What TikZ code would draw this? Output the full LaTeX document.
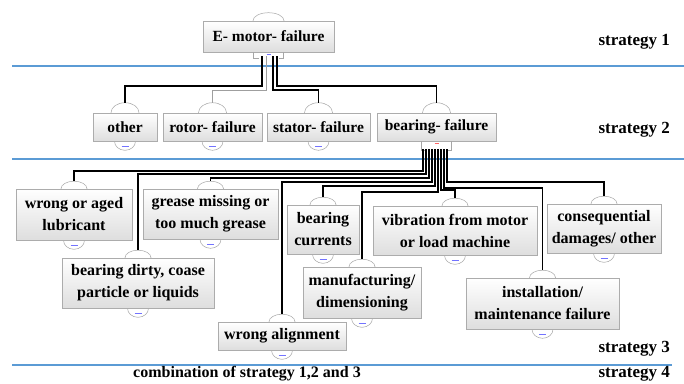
\documentclass[tikz,border=0pt]{standalone}
\usepackage{fontspec}
\setmainfont{Liberation Serif}
\usetikzlibrary{shadows,calc}
\pgfdeclarelayer{bg}
\pgfsetlayers{bg,main}
\definecolor{blueline}{RGB}{91,155,213}
\begin{document}
\begin{tikzpicture}[x=1pt,y=-1pt,
 ev/.style={draw=gray!65, line width=0.6pt, top color=white, bottom color=black!13,
   align=center, inner sep=1pt, font=\bfseries\fontsize{16}{22}\selectfont,
   drop shadow={shadow xshift=1.3pt, shadow yshift=-1.3pt, fill=black!45, opacity=0.6}},
 ev2/.style={ev, font=\bfseries\fontsize{15.5}{21}\selectfont},
 wire/.style={line width=1.3pt, black},
 thinwire/.style={line width=0.9pt, gray!75},
 sepline/.style={draw=blueline, line width=1.6pt},
 strat/.style={font=\bfseries\fontsize{17}{20}\selectfont, anchor=east, inner sep=0pt},
 gatebg/.style={fill=white, draw=gray!70, line width=0.5pt},
 bracket/.style={draw=gray!70, line width=0.7pt},
 idmark/.style={draw=blue!55, line width=0.6pt}
]
\useasboundingbox (0,0) rectangle (684,383);

% separator lines
\draw[sepline] (12,66) -- (684,66);
\draw[sepline] (12,159) -- (684,159);
\draw[sepline] (12,365) -- (672,365);

% strategy labels
\node[strat] (s1) at (670,42) {strategy 1};
\node[strat] (s2) at (670,130) {strategy 2};
\node[strat] (s3) at (670,349) {strategy 3};
\node[strat] (s4) at (670,374) {strategy 4};
\node[font=\bfseries\fontsize{16}{20}\selectfont, inner sep=0pt] (comb) at (247,374) {combination of strategy 1,2 and 3};

% level 1
\node[ev2, minimum width=131pt, minimum height=31pt] (top) at (268.5,36.5) {E- motor- failure};

% level 2
\node[ev2, minimum width=64pt, minimum height=28pt] (oth) at (125,127) {other};
\node[ev2, minimum width=99pt, minimum height=28pt] (rot) at (212.5,127) {rotor- failure};
\node[ev2, minimum width=103pt, minimum height=28pt] (sta) at (318.5,127) {stator- failure};
\node[ev2, minimum width=119pt, minimum height=28pt] (bea) at (436.5,127) {bearing- failure};

% level 3
\node[ev, minimum width=116pt, minimum height=51pt] (wa) at (74,214.5) {wrong or aged\\lubricant};
\node[ev, minimum width=135pt, minimum height=50pt] (gm) at (210.5,214) {grease missing or\\too much grease};
\node[ev, minimum width=72pt, minimum height=49pt] (bc) at (323,229.5) {bearing\\currents};
\node[ev, minimum width=164pt, minimum height=49pt] (vib) at (455,230.5) {vibration from motor\\or load machine};
\node[ev, minimum width=114pt, minimum height=49pt] (cd) at (604,228.5) {consequential\\damages/ other};
\node[ev, minimum width=152pt, minimum height=50pt] (bd) at (138,283) {bearing dirty, coase\\particle or liquids};
\node[ev, minimum width=118pt, minimum height=51pt] (mf) at (362,292.5) {manufacturing/\\dimensioning};
\node[ev, minimum width=153pt, minimum height=51pt] (im) at (542.5,303.5) {installation/\\maintenance failure};
\node[ev, minimum width=128pt, minimum height=28pt] (wal) at (282,336) {wrong alignment};

% gate symbols behind boxes
\begin{pgfonlayer}{bg}
  \fill[white] (0,0) rectangle (684,383);
  \draw[gatebg] (top.north) ellipse[x radius=15.5pt, y radius=8pt];
  \foreach \n in {oth,rot,sta,bea} {
    \draw[gatebg] (\n.north) ellipse[x radius=14pt, y radius=10pt];
  }
  \foreach \n in {wa,gm,bc,vib,cd,bd,mf,im,wal} {
    \draw[gatebg] (\n.north) ellipse[x radius=13pt, y radius=7.5pt];
  }
  \foreach \n in {oth,rot,sta,wa,gm,bc,vib,cd,bd,mf,im,wal} {
    \draw[gatebg] (\n.south) ellipse[x radius=10.5pt, y radius=9pt];
  }
\end{pgfonlayer}

% small marks in the lower circles
\foreach \n in {oth,rot,sta,wa,gm,bc,vib,cd,bd,mf,im,wal} {
  \draw[idmark] ([xshift=-3.5pt,yshift=-4.5pt]\n.south) -- ++(7pt,0);
}

% connection points on top of the gates
\coordinate (oth-g) at ([yshift=10pt]oth.north);
\coordinate (rot-g) at ([yshift=10pt]rot.north);
\coordinate (sta-g) at ([yshift=10pt]sta.north);
\coordinate (bea-g) at ([yshift=10pt]bea.north);
\foreach \n in {wa,gm,bc,vib,cd,bd,mf,im,wal} {
  \coordinate (\n-g) at ([yshift=7.5pt]\n.north);
}

% output gate brackets
\draw[bracket] ([xshift=-15pt]top.south) -- ++(0,6) -- ++(5,0);
\draw[bracket] ([xshift=15pt]top.south) -- ++(0,6) -- ++(-5,0);
\draw[idmark] ([xshift=-2pt,yshift=-2pt]top.south) -- ++(4pt,0);
\draw[bracket] ([xshift=-15pt]bea.south) -- ++(0,9) -- ++(5,0);
\draw[bracket] ([xshift=15pt]bea.south) -- ++(0,9) -- ++(-5,0);
\draw[draw=red!60, line width=0.6pt] ([xshift=-2pt,yshift=-2pt]bea.south) -- ++(4pt,0);

% starting points of the level-2 wires
\coordinate (t1) at (262,56);
\coordinate (t2) at (266,56);
\coordinate (t3) at (273,56);
\coordinate (t4) at (277,56);

\draw[wire] (t1) -- ++(0,30) -| (oth-g);
\draw[thinwire] (t2) -- ++(0,34) -| (rot-g);
\draw[wire] (t3) -- ++(0,34) -| (sta-g);
\draw[wire] (t4) -- ++(0,30) -| (bea-g);

% starting points of the level-3 wires (bundle)
\coordinate (b1) at (423,149);
\coordinate (b2) at (426,149);
\coordinate (b3) at (429,149);
\coordinate (b4) at (432,149);
\coordinate (b5) at (435,149);
\coordinate (b6) at (438,149);
\coordinate (b7) at (441,149);
\coordinate (b8) at (444,149);
\coordinate (b9) at (447,149);

\draw[wire] (b1) -- ++(0,22) -| (wa-g);
\draw[wire] (b2) -- ++(0,25) -| (bd-g);
\draw[wire] (b3) -- ++(0,29) -| (gm-g);
\draw[wire] (b4) -- ++(0,33) -| (wal-g);
\draw[wire] (b5) -- ++(0,37) -| (bc-g);
\draw[wire] (b6) -- ++(0,43) -| (mf-g);
\draw[wire] (b7) -- ++(0,41) -| (vib-g);
\draw[wire] (b8) -- ++(0,39) -| (im-g);
\draw[wire] (b9) -- ++(0,33) -| (cd-g);
\end{tikzpicture}
\end{document}
